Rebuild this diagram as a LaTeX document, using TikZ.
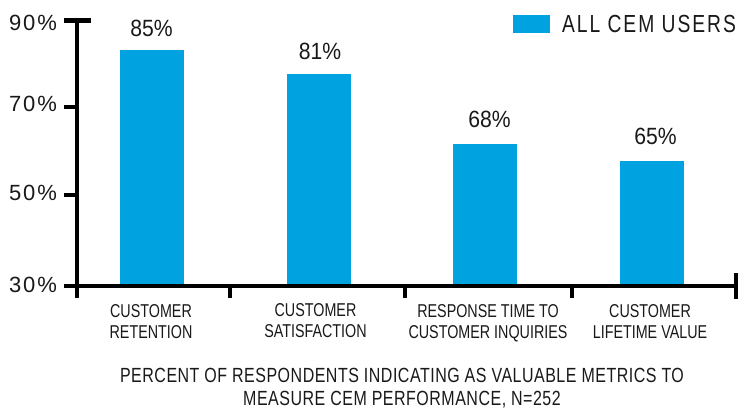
\documentclass[tikz,border=0pt]{standalone}
\usepackage{fontspec}
\setmainfont{Liberation Sans}
\newfontfamily\tickfam[LetterSpace=9]{Liberation Sans}
\newfontfamily\valfam[FakeStretch=0.9]{Liberation Sans}
\newfontfamily\catfam[FakeStretch=0.77]{Liberation Sans}
\newfontfamily\capfam[FakeStretch=0.78,LetterSpace=2.5]{Liberation Sans}
\newfontfamily\legfam[FakeStretch=0.78,LetterSpace=8]{Liberation Sans}
\definecolor{barblue}{RGB}{0,163,224}
\definecolor{ink}{RGB}{25,25,25}
\begin{document}
\begin{tikzpicture}[x=1pt,y=-1pt,
  every node/.style={inner sep=0pt,outer sep=0pt,text=ink},
  barfill/.style={fill=barblue,draw=none},
  axisline/.style={draw=black,line width=4pt},
  ticklab/.style={font=\tickfam\fontsize{22}{25}\selectfont,anchor=east},
  vallab/.style={font=\valfam\fontsize{23.5}{26}\selectfont,anchor=base},
  catlab/.style={font=\catfam\fontsize{18.6}{21}\selectfont,align=center,anchor=north},
  caplab/.style={font=\capfam\fontsize{20.5}{23}\selectfont,align=center,anchor=north},
  leglab/.style={font=\legfam\fontsize{24.7}{28}\selectfont,anchor=base west}]
\useasboundingbox (0,0) rectangle (747,408);
% bars
\path[barfill] (120,50) rectangle (184,286);
\path[barfill] (287,74) rectangle (351,286);
\path[barfill] (453,143.5) rectangle (517,286);
\path[barfill] (620,161) rectangle (683.5,286);
% value labels
\node[vallab] (v1) at (151.5,36) {85\%};
\node[vallab] (v2) at (320,59) {81\%};
\node[vallab] (v3) at (489.5,127) {68\%};
\node[vallab] (v4) at (655.5,144) {65\%};
% axes
\draw[axisline] (77,20.5) -- (77,298);
\draw[draw=black,line width=5pt] (64,20.5) -- (91,20.5);
\draw[axisline] (64,106.7) -- (77,106.7);
\draw[axisline] (64,195) -- (77,195);
\draw[axisline] (64,286) -- (735.5,286);
\draw[axisline] (230,286) -- (230,298);
\draw[axisline] (405,286) -- (405,298);
\draw[axisline] (572,286) -- (572,298);
\draw[axisline] (735.5,273) -- (735.5,299);
% tick labels
\node[ticklab] (t90) at (57,22.5) {90\%};
\node[ticklab] (t70) at (57,104) {70\%};
\node[ticklab] (t50) at (57,193) {50\%};
\node[ticklab] (t30) at (57,284.5) {30\%};
% category labels
\node[catlab] (c1) at (151,305) {CUSTOMER\\RETENTION};
\node[catlab] (c2) at (315.5,304) {CUSTOMER\\SATISFACTION};
\node[catlab] (c3) at (488,305) {RESPONSE TIME TO\\CUSTOMER INQUIRIES};
\node[catlab] (c4) at (650,305) {CUSTOMER\\LIFETIME VALUE};
% caption
\node[caplab] (cap) at (402,367.7) {PERCENT OF RESPONDENTS INDICATING AS VALUABLE METRICS TO\\MEASURE CEM PERFORMANCE, N=252};
% legend
\path[barfill] (513,15) rectangle (550,33);
\node[leglab] (lg) at (562,32.7) {ALL CEM USERS};
\end{tikzpicture}
\end{document}
